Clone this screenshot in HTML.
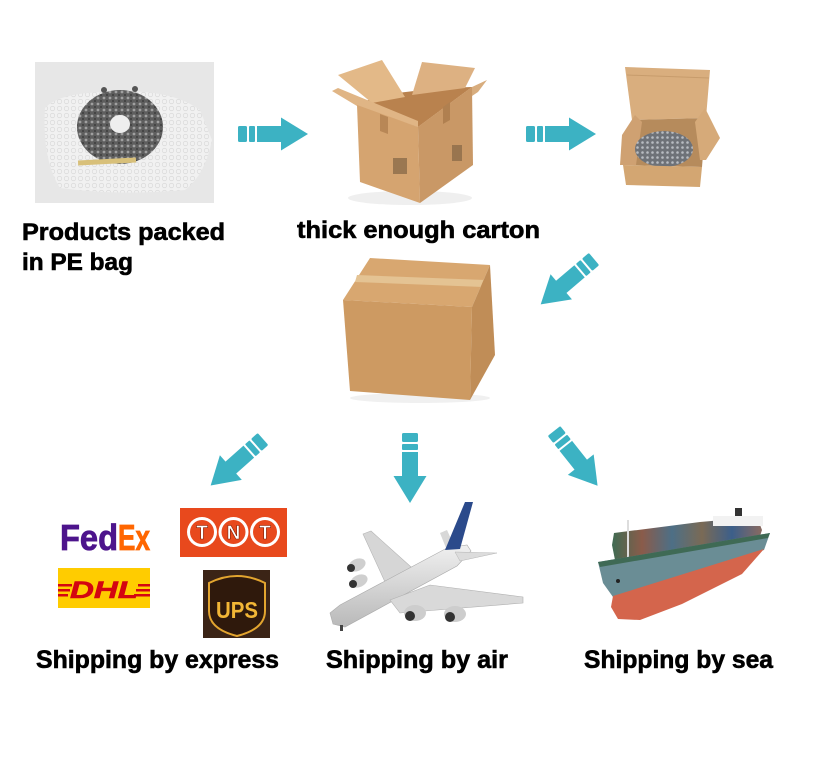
<!DOCTYPE html>
<html><head><meta charset="utf-8"><style>
html,body{margin:0;padding:0;background:#fff;}
svg{display:block;}
text{font-family:"Liberation Sans",sans-serif;font-weight:bold;}
.lbl{stroke:#000;stroke-width:0.6;}
</style></head><body>
<svg width="819" height="782" viewBox="0 0 819 782" xmlns="http://www.w3.org/2000/svg">
<defs>
<g id="arr">
<rect x="0" y="-8" width="9" height="16" rx="1.5"/>
<rect x="11" y="-8" width="6" height="16" rx="1"/>
<rect x="19" y="-8" width="25" height="16"/>
<polygon points="43,-16.5 70,0 43,16.5"/>
</g>
<pattern id="dots" width="6" height="6" patternUnits="userSpaceOnUse">
<rect width="6" height="6" fill="#5e5e5e"/>
<circle cx="2" cy="2" r="1.4" fill="#a0a0a0"/>
<circle cx="5" cy="5" r="0.9" fill="#333"/>
</pattern>
<pattern id="bub" width="7" height="7" patternUnits="userSpaceOnUse">
<rect width="7" height="7" fill="#f1f1f1"/>
<circle cx="3.5" cy="3.5" r="2.2" fill="none" stroke="#dcdcdc" stroke-width="0.8"/>
</pattern>
<pattern id="bub2" width="5" height="5" patternUnits="userSpaceOnUse">
<rect width="5" height="5" fill="#6e7278"/>
<circle cx="2.5" cy="2.5" r="1.3" fill="#b8bcc2"/>
</pattern>
<linearGradient id="fus" x1="0" y1="0" x2="0" y2="1">
<stop offset="0" stop-color="#f0f0f0"/><stop offset="1" stop-color="#b9b9b9"/>
</linearGradient>
<linearGradient id="cont" x1="0" y1="0" x2="1" y2="0">
<stop offset="0" stop-color="#3f6b52"/><stop offset="0.2" stop-color="#8a5b4a"/>
<stop offset="0.4" stop-color="#4d6f86"/><stop offset="0.6" stop-color="#7a6a55"/>
<stop offset="0.8" stop-color="#3c5f8a"/><stop offset="1" stop-color="#8a6a60"/>
</linearGradient>
</defs>

<!-- PE bag photo -->
<rect x="35" y="62" width="179" height="141" fill="#e7e7e7"/>
<path d="M45,108 Q60,92 110,92 Q170,88 200,110 L212,140 Q205,175 185,190 Q120,196 60,188 Q42,160 45,108 Z" fill="url(#bub)"/>
<ellipse cx="120" cy="127" rx="43" ry="37" fill="url(#dots)"/>
<ellipse cx="120" cy="124" rx="10" ry="9" fill="#eeeeee"/>
<rect x="78" y="159" width="58" height="5" fill="#d8c07a" transform="rotate(-3 107 161)"/>
<circle cx="104" cy="90" r="3" fill="#555"/><circle cx="135" cy="89" r="3" fill="#555"/>

<!-- Open carton -->
<ellipse cx="410" cy="198" rx="62" ry="7" fill="#efefef"/>
<polygon points="357,105 380,95 440,88 472,87 418,127" fill="#b9824e"/>
<polygon points="338,75 382,60 405,97 372,103" fill="#e3b988"/>
<polygon points="412,95 422,62 475,68 465,88" fill="#ddb182"/>
<polygon points="332,91 338,88 418,121 418,127 357,106" fill="#e0b585"/>
<polygon points="418,127 472,87 487,80 478,92 430,124" fill="#d8ad7e"/>
<polygon points="357,105 418,127 420,203 360,182" fill="#d5a470"/>
<polygon points="418,127 472,87 473,165 420,203" fill="#c99866"/>
<polygon points="380,114 388,117 388,134 380,131" fill="#b88756"/>
<polygon points="443,107 450,102 450,120 443,124" fill="#b08050"/>
<rect x="393" y="158" width="14" height="16" fill="#6a5238" opacity="0.55"/>
<rect x="452" y="145" width="10" height="16" fill="#6a5238" opacity="0.5"/>

<!-- Box with product -->
<polygon points="625,67 710,70 706,118 632,120" fill="#d9ae7e"/>
<line x1="627" y1="75" x2="709" y2="78" stroke="#c79c6c" stroke-width="1"/>
<polygon points="632,120 706,118 702,167 623,165" fill="#b68b5c"/>
<polygon points="620,165 622,135 635,115 642,122 636,165" fill="#cfa172"/>
<ellipse cx="664" cy="149" rx="29" ry="18" fill="url(#bub2)"/>
<polygon points="695,122 705,108 720,138 706,160 700,160" fill="#d6aa79"/>
<polygon points="623,165 702,167 700,187 626,185" fill="#d3a672"/>

<!-- Closed box -->
<ellipse cx="420" cy="398" rx="70" ry="5" fill="#f0f0f0"/>
<polygon points="370,258 490,265 472,307 343,300" fill="#d8a770"/>
<polygon points="357,275 485,280 483,287 355,282" fill="#e4c393"/>
<polygon points="343,300 472,307 470,400 350,391" fill="#cd9a62"/>
<polygon points="472,307 490,265 495,355 470,400" fill="#c08d57"/>

<!-- Arrows -->
<g fill="#3cb2c3">
<use href="#arr" transform="translate(238,134)"/>
<use href="#arr" transform="translate(526,134)"/>
<use href="#arr" transform="translate(594,259) rotate(139.6)"/>
<use href="#arr" transform="translate(263,439) rotate(138.4)"/>
<use href="#arr" transform="translate(410,433) rotate(90)"/>
<use href="#arr" transform="translate(554,431) rotate(51.5)"/>
</g>

<!-- Top labels -->
<text class="lbl" x="22" y="240" font-size="24" textLength="203" lengthAdjust="spacingAndGlyphs">Products packed</text>
<text class="lbl" x="22" y="270" font-size="24" textLength="111" lengthAdjust="spacingAndGlyphs">in PE bag</text>
<text class="lbl" x="297" y="238" font-size="24" textLength="243" lengthAdjust="spacingAndGlyphs">thick enough carton</text>

<!-- FedEx -->
<text x="60" y="550" font-size="36" fill="#4d148c" stroke="#4d148c" stroke-width="0.8" textLength="58" lengthAdjust="spacingAndGlyphs">Fed</text>
<text x="118" y="550" font-size="36" fill="#ff6600" stroke="#ff6600" stroke-width="0.8" textLength="32" lengthAdjust="spacingAndGlyphs">Ex</text>

<!-- TNT -->
<rect x="180" y="508" width="107" height="49" fill="#e8491d"/>
<g>
<circle cx="202" cy="532" r="15" fill="#fff"/><circle cx="202" cy="532" r="12" fill="#e8491d"/>
<circle cx="233.5" cy="532" r="15" fill="#fff"/><circle cx="233.5" cy="532" r="12" fill="#e8491d"/>
<circle cx="265" cy="532" r="15" fill="#fff"/><circle cx="265" cy="532" r="12" fill="#e8491d"/>
<text x="202" y="539" font-size="19" fill="#fff" text-anchor="middle" stroke="#7a1a00" stroke-width="0.6">T</text>
<text x="233.5" y="539" font-size="19" fill="#fff" text-anchor="middle" stroke="#7a1a00" stroke-width="0.6">N</text>
<text x="265" y="539" font-size="19" fill="#fff" text-anchor="middle" stroke="#7a1a00" stroke-width="0.6">T</text>
</g>

<!-- DHL -->
<rect x="58" y="568" width="92" height="40" fill="#ffcc00"/>
<g fill="#d40511">
<rect x="58" y="584" width="14" height="2.5"/><rect x="58" y="589" width="12" height="2.5"/><rect x="58" y="594" width="10" height="2.5"/>
<rect x="138" y="584" width="12" height="2.5"/><rect x="136" y="589" width="14" height="2.5"/><rect x="134" y="594" width="16" height="2.5"/>
</g>
<text x="70" y="598" font-size="24" font-style="italic" fill="#d40511" stroke="#d40511" stroke-width="0.6" textLength="68" lengthAdjust="spacingAndGlyphs">DHL</text>

<!-- UPS -->
<rect x="203" y="570" width="67" height="68" fill="#3b2416"/>
<path d="M209,583 Q237,569 265,583 L265,611 Q265,629 237,636 Q209,629 209,611 Z" fill="#2f190c" stroke="#e3a52f" stroke-width="2"/>
<text x="237" y="618" font-size="23" fill="#f2b636" text-anchor="middle" textLength="42" lengthAdjust="spacingAndGlyphs">UPS</text>

<!-- Plane -->
<g>
<polygon points="385,582 363,534 371,531 420,575" fill="#d6d6d6" stroke="#b5b5b5" stroke-width="0.6"/>
<ellipse cx="357" cy="565" rx="9" ry="6" fill="#cfcfcf" transform="rotate(-25 357 565)"/>
<circle cx="351" cy="568" r="4" fill="#333"/>
<ellipse cx="359" cy="581" rx="9" ry="6" fill="#cfcfcf" transform="rotate(-25 359 581)"/>
<circle cx="353" cy="584" r="4" fill="#333"/>
<polygon points="440,533 447,530 456,550 448,553" fill="#d8d8d8"/>
<polygon points="330,613 340,605 447,548 467,545 471,551 457,566 345,627 333,624" fill="url(#fus)" stroke="#aaa" stroke-width="0.6"/>
<polygon points="445,550 465,502 473,502 460,549" fill="#2b4a8b"/>
<polygon points="455,552 497,553 460,561" fill="#dcdcdc" stroke="#b5b5b5" stroke-width="0.5"/>
<polygon points="390,600 430,585 523,597 523,603 400,613" fill="#d9d9d9" stroke="#b0b0b0" stroke-width="0.6"/>
<ellipse cx="415" cy="613" rx="11" ry="8" fill="#cdcdcd"/>
<circle cx="410" cy="616" r="5" fill="#333"/>
<ellipse cx="455" cy="614" rx="11" ry="8" fill="#cdcdcd"/>
<circle cx="450" cy="617" r="5" fill="#333"/>
<rect x="340" y="625" width="3" height="6" fill="#444"/>
</g>

<!-- Ship -->
<g>
<polygon points="612,545 614,533 700,522 757,517 762,530 760,536 615,560" fill="url(#cont)"/>
<rect x="713" y="516" width="50" height="10" fill="#f2f2f2"/>
<rect x="735" y="508" width="7" height="8" fill="#333"/>
<line x1="628" y1="520" x2="628" y2="562" stroke="#ddd" stroke-width="2"/>
<polygon points="598,562 770,533 764,550 613,597 603,583" fill="#6a8d95"/>
<polygon points="598,562 770,533 768,538 600,567" fill="#3f6a55"/>
<polygon points="613,596 764,549 742,574 682,604 640,620 618,619 611,607" fill="#d4654c"/>
<circle cx="618" cy="581" r="2" fill="#222"/>
</g>

<!-- Bottom labels -->
<text class="lbl" x="36" y="668" font-size="25" textLength="243" lengthAdjust="spacingAndGlyphs">Shipping by express</text>
<text class="lbl" x="326" y="668" font-size="25" textLength="182" lengthAdjust="spacingAndGlyphs">Shipping by air</text>
<text class="lbl" x="584" y="668" font-size="25" textLength="189" lengthAdjust="spacingAndGlyphs">Shipping by sea</text>
</svg>
</body></html>
